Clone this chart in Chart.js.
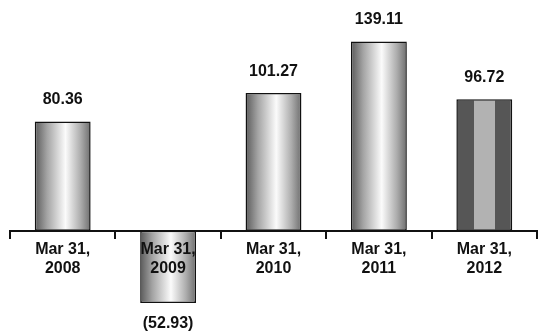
<!DOCTYPE html>
<html>
<head>
<meta charset="utf-8">
<script src="https://cdn.jsdelivr.net/npm/chart.js@4.4.1/dist/chart.umd.min.js"></script>
<style>
  html, body { margin: 0; padding: 0; background: #fff; }
  #wrap { width: 539px; height: 333px; }
</style>
</head>
<body>
<div id="wrap"><canvas id="bars"></canvas></div>
<script>
const years = ['2008', '2009', '2010', '2011', '2012'];
const values = [80.36, -52.93, 101.27, 139.11, 96.72];
const valueLabels = ['80.36', '(52.93)', '101.27', '139.11', '96.72'];

const FONT = '"Liberation Sans", Arial, Helvetica, sans-serif';

function barFill(ctx) {
  const chart = ctx.chart;
  const x = chart.scales.x;
  if (!x || ctx.dataIndex === undefined) return '#999';
  const cx = x.getPixelForValue(ctx.dataIndex);
  const w = (x.width / years.length) * 0.53;
  if (!isFinite(cx) || !isFinite(w) || w <= 0) return '#999';
  const g = chart.ctx.createLinearGradient(cx - w / 2, 0, cx + w / 2, 0);
  if (ctx.dataIndex === years.length - 1) {
    g.addColorStop(0, '#565656');
    g.addColorStop(0.31, '#565656');
    g.addColorStop(0.31, '#b2b2b2');
    g.addColorStop(0.7, '#b2b2b2');
    g.addColorStop(0.7, '#565656');
    g.addColorStop(1, '#565656');
  } else {
    g.addColorStop(0, '#5a5a5a');
    g.addColorStop(0.22, '#a4a4a4');
    g.addColorStop(0.55, '#fbfbfb');
    g.addColorStop(0.82, '#adadad');
    g.addColorStop(1, '#6e6e6e');
  }
  return g;
}

const valueLabelPlugin = {
  id: 'valueLabels',
  afterDatasetsDraw(chart) {
    const c = chart.ctx;
    const meta = chart.getDatasetMeta(0);
    c.save();
    c.font = 'bold 16px ' + FONT;
    c.fillStyle = '#111';
    c.textAlign = 'center';
    meta.data.forEach((bar, i) => {
      if (values[i] >= 0) {
        c.textBaseline = 'alphabetic';
        c.fillText(valueLabels[i], bar.x, bar.y - 17);
      } else {
        c.textBaseline = 'top';
        c.fillText(valueLabels[i], bar.x, bar.y + 13);
      }
    });
    c.restore();
  }
};

new Chart(document.getElementById('bars'), {
  type: 'bar',
  data: {
    labels: years.map(y => ['Mar 31,', y]),
    datasets: [{
      data: values,
      backgroundColor: barFill,
      borderColor: '#111',
      borderWidth: 1.5,
      borderSkipped: false,
      categoryPercentage: 1,
      barPercentage: 0.53
    }]
  },
  options: {
    responsive: true,
    maintainAspectRatio: false,
    animation: false,
    layout: { padding: { left: 10, right: 2, top: 13, bottom: 0 } },
    plugins: { legend: { display: false }, tooltip: { enabled: false } },
    scales: {
      x: {
        position: { y: 0 },
        offset: true,
        grid: { display: true, drawOnChartArea: false, drawTicks: true, tickLength: 7, color: '#111', lineWidth: 2, offset: true, z: 1 },
        border: { display: true, color: '#111', width: 2, z: 1 },
        ticks: { color: '#111', font: { family: FONT, size: 16, weight: 'bold' }, padding: 2, maxRotation: 0, autoSkip: false, z: 1 }
      },
      y: {
        display: false,
        min: -75,
        max: 160
      }
    }
  },
  plugins: [valueLabelPlugin]
});
</script>
</body>
</html>
